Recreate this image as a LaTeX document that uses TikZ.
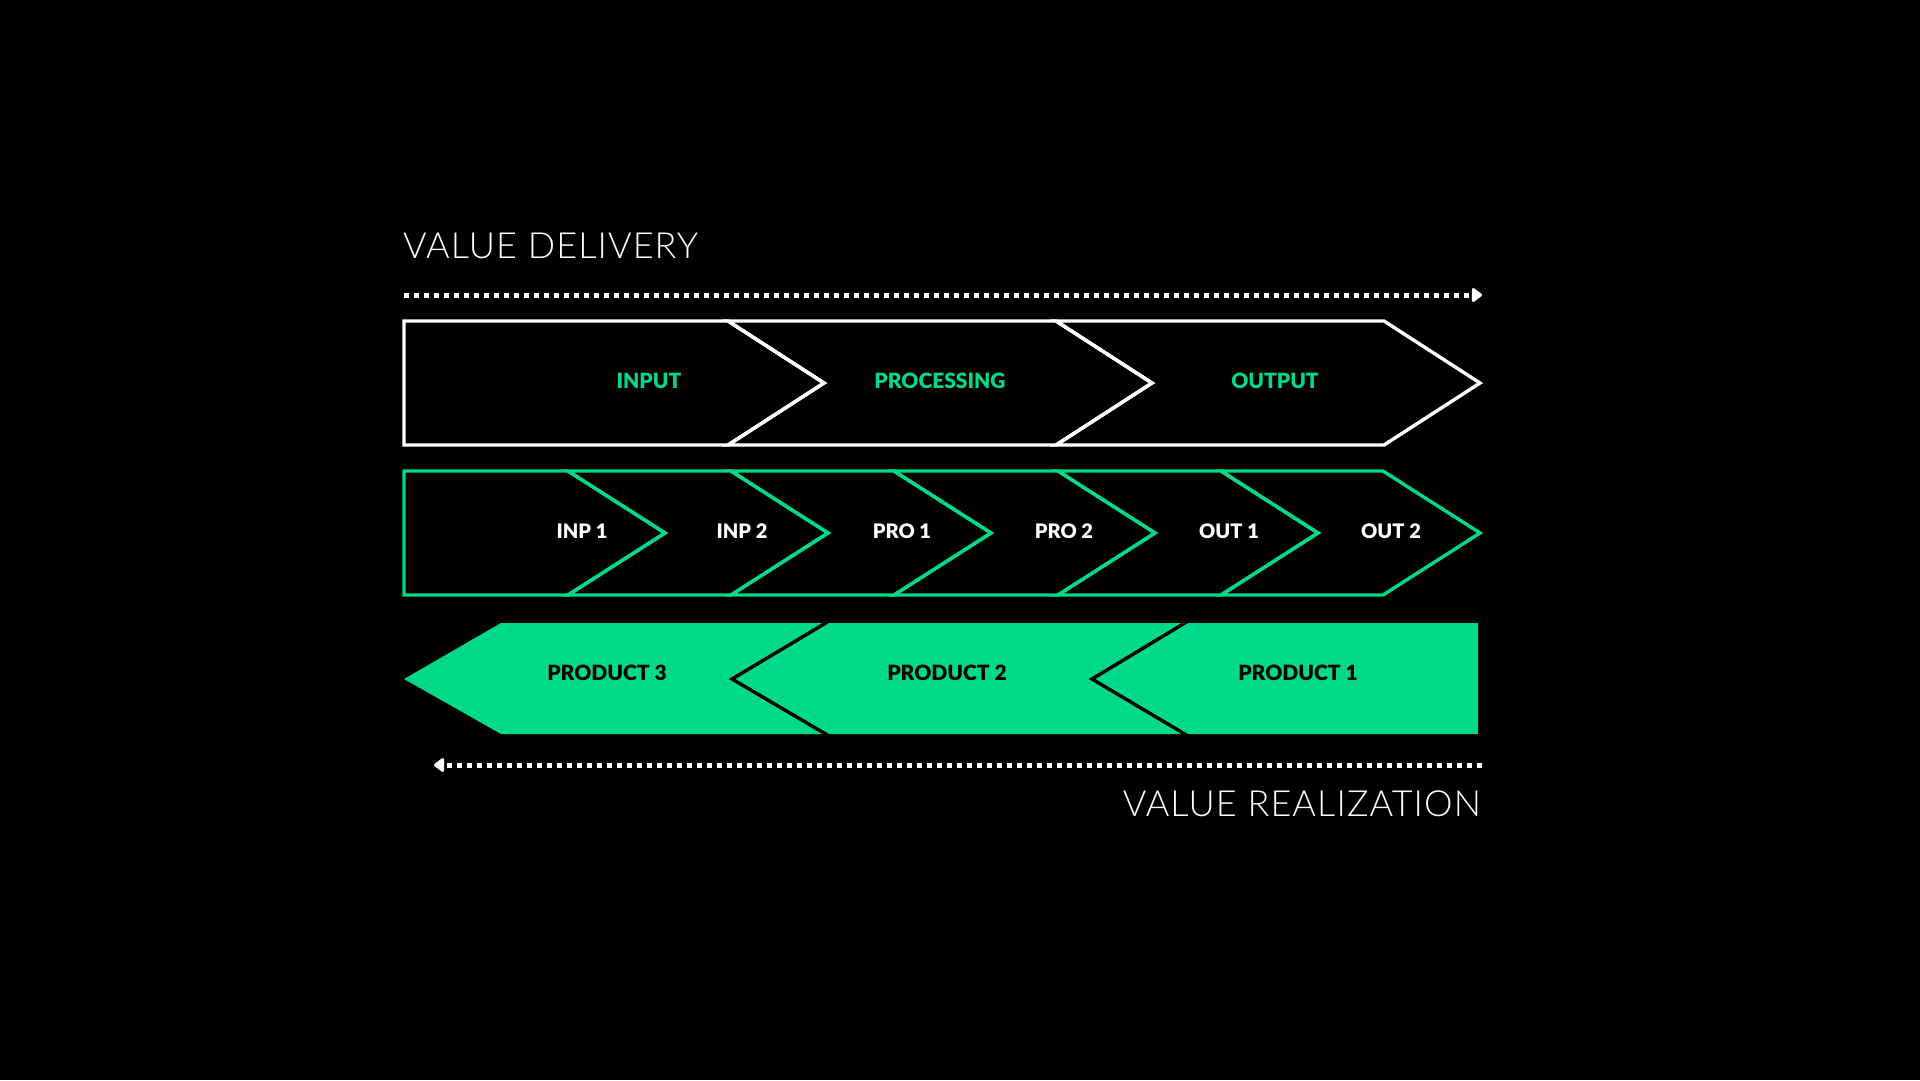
\documentclass[tikz,border=0pt]{standalone}
\usepackage{fontspec}
\usetikzlibrary{arrows.meta}
\setmainfont{Lato}
\IfFontExistsTF{Lato Light}{\newfontfamily\titlefont{Lato Light}[LetterSpace=3]}{\newfontfamily\titlefont{Lato}[LetterSpace=3]}
\IfFontExistsTF{Lato Black}{\newfontfamily\labelfont{Lato Black}}{\newfontfamily\labelfont{Lato}[UprightFont=* Bold]}
\definecolor{vgreen}{RGB}{0,217,135}
\tikzset{
  chev/.style={line width=3.4pt,line join=miter},
  dotline/.style={white,line width=5pt,dash pattern=on 5pt off 5pt,
    -{Triangle[round,length=11pt,width=16pt]}},
  bigtitle/.style={white,inner sep=0pt,font=\titlefont\fontsize{36}{36}\selectfont},
}
\begin{document}
\begin{tikzpicture}[x=1pt,y=-1pt]
    \fill[black] (0,0) rectangle (1920,1080);
    \useasboundingbox (0,0) rectangle (1920,1080);
    % titles
    \node[bigtitle,anchor=base west] (deliv) at (403,258) {VALUE DELIVERY};
    \node[bigtitle,anchor=base east] (realiz) at (1481,816) {VALUE REALIZATION};
    % dotted arrows
    \coordinate (dl) at (404,295);
    \coordinate (dr) at (1482,295);
    \coordinate (rl) at (434,765);
    \coordinate (rr) at (1482,765);
    \draw[dotline] (dl) -- (dr);
    \draw[dotline] (rr) -- (rl);
    % row 1: stages
    \begin{scope}[chev,draw=white]
      \draw (404,321) -- (728,321) -- (824,383) -- (728,445) -- (404,445) -- cycle;
      \foreach \a/\b in {728/1056,1056/1384}
        \draw (\a,321) -- (\b,321) -- (\b+96,383) -- (\b,445) -- (\a,445) -- (\a+96,383) -- cycle;
    \end{scope}
    % row 2: steps
    \begin{scope}[chev,draw=vgreen]
      \draw (404,471) -- (568,471) -- (665,533) -- (568,595) -- (404,595) -- cycle;
      \foreach \a/\b in {568/731,731/894,894/1058,1058/1221,1221/1383}
        \draw (\a,471) -- (\b,471) -- (\b+97,533) -- (\b,595) -- (\a,595) -- (\a+97,533) -- cycle;
    \end{scope}
    % row 3: products
    \fill[vgreen] (404,679) -- (501,623) -- (1478,623) -- (1478,734) -- (501,734) -- cycle;
    \begin{scope}[chev,draw=black]
      \draw (829,621) -- (732,679) -- (829,736);
      \draw (1188,621) -- (1092,679) -- (1188,736);
    \end{scope}
    % labels
    \begin{scope}[every node/.style={font=\labelfont\fontsize{21}{21}\selectfont,inner sep=0pt}]
      \node[text=vgreen] (input) at (649,381) {INPUT};
      \node[text=vgreen] (proc) at (940,381) {PROCESSING};
      \node[text=vgreen] (output) at (1275,381) {OUTPUT};
      \node[text=black] (prodc) at (607,673) {PRODUCT 3};
      \node[text=black] (prodb) at (947,673) {PRODUCT 2};
      \node[text=black] (proda) at (1298,673) {PRODUCT 1};
    \end{scope}
    \begin{scope}[every node/.style={font=\labelfont\fontsize{20}{20}\selectfont,inner sep=0pt,text=white}]
      \node (inpa) at (582,531) {INP 1};
      \node (inpb) at (742,531) {INP 2};
      \node (proa) at (902,531) {PRO 1};
      \node (prob) at (1064,531) {PRO 2};
      \node (outa) at (1229,531) {OUT 1};
      \node (outb) at (1391,531) {OUT 2};
    \end{scope}
\end{tikzpicture}
\end{document}
